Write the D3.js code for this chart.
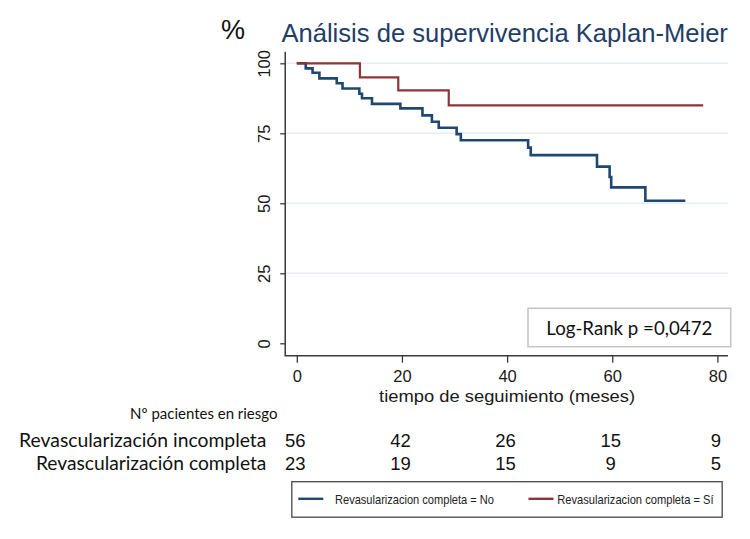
<!DOCTYPE html>
<html>
<head>
<meta charset="utf-8">
<script src="https://cdn.jsdelivr.net/npm/d3@7"></script>
<style>
  body { margin: 0; background: #fff; }
  svg { display: block; }
</style>
</head>
<body>
<div id="grafico"></div>
<script>
// ejes
var tiempoTicks = [0, 20, 40, 60, 80];
var supTicks = [0, 25, 50, 75, 100];

// curva Kaplan-Meier, revascularizacion completa = No
var tiempoNo = [0, 1.7, 3.0, 4.3, 7.6, 8.7, 11.9, 12.4, 14.3, 19.7, 23.9, 25.7, 27.0, 30.4, 31.2, 44.0, 44.5, 57.1, 59.5, 59.8, 66.3, 73.9];
var supNo    = [100, 98.2, 96.6, 94.6, 92.9, 91.0, 89.1, 87.5, 85.5, 83.9, 81.4, 79.1, 77.0, 74.7, 72.5, 69.9, 67.2, 63.1, 59.4, 55.7, 50.9, 50.9];

// curva Kaplan-Meier, revascularizacion completa = Si
var tiempoSi = [0, 12.0, 19.3, 28.9, 77.3];
var supSi    = [100, 95.0, 90.3, 85.0, 85.0];

var grupos = ["Revasularizacion completa = No", "Revasularizacion completa = Sí"];
var colores = ["#1f4772", "#8e3538"];

// pacientes en riesgo
var filasRiesgo = ["Revascularización incompleta", "Revascularización completa"];
var riesgoNo = [56, 42, 26, 15, 9];
var riesgoSi = [23, 19, 15, 9, 5];

var titulo = "Análisis de supervivencia Kaplan-Meier";
var tituloX = "tiempo de seguimiento (meses)";
var logRank = "Log-Rank p =0,0472";

!function() {
    var W = 750, H = 539;
    var fx = d3.scaleLinear().domain([0, 80]).range([296.8, 717.4]);
    var fy = d3.scaleLinear().domain([0, 100]).range([343.3, 63.3]);

    var svg = d3.select('#grafico')
                .append('svg')
                  .attr('width', W)
                  .attr('height', H);

    svg.append('rect').attr('width', W).attr('height', H).attr('fill', '#fff');

    // titulo
    svg.append('text')
        .attr('x', 221).attr('y', 38.5)
        .style('font-family', 'Liberation Sans, Arial, sans-serif')
        .style('font-size', '27px')
        .attr('fill', '#111')
        .text('%');
    svg.append('text')
        .attr('x', 281.4).attr('y', 41.7)
        .attr('textLength', 446.5)
        .attr('lengthAdjust', 'spacingAndGlyphs')
        .style('font-family', 'Liberation Sans, Arial, sans-serif')
        .style('font-size', '25.6px')
        .attr('fill', '#1f3d68')
        .text(titulo);

    // rejilla
    svg.append('g').selectAll('line')
        .data(supTicks.filter(function(d) { return d > 0; })).enter()
        .append('line')
          .attr('x1', fx(-2.2)).attr('x2', fx(82))
          .attr('y1', function(d) { return fy(d); })
          .attr('y2', function(d) { return fy(d); })
          .attr('stroke', '#e6edf1')
          .attr('stroke-width', 1.5);

    // eje y
    var ay = svg.append('g')
        .attr('transform', 'translate(' + fx(-2.2) + ',0)')
        .call(d3.axisLeft(fy).tickValues(supTicks).tickSize(5));
    ay.select('.domain').remove();
    ay.selectAll('line').attr('stroke', '#3a3a3a').attr('stroke-width', 1.3);
    ay.selectAll('text')
        .attr('x', 0).attr('y', -15.5).attr('dy', 0)
        .attr('transform', 'rotate(-90)')
        .style('text-anchor', 'middle')
        .style('font-family', 'Liberation Sans, Arial, sans-serif')
        .style('font-size', '16.5px')
        .attr('fill', '#1a1a1a');

    // eje x
    var ax = svg.append('g')
        .attr('transform', 'translate(0,' + 355.7 + ')')
        .call(d3.axisBottom(fx).tickValues(tiempoTicks).tickSize(7));
    ax.select('.domain').remove();
    ax.selectAll('line').attr('stroke', '#3a3a3a').attr('stroke-width', 1.3);
    ax.selectAll('text')
        .attr('y', 26.6).attr('dy', 0)
        .style('font-family', 'Liberation Sans, Arial, sans-serif')
        .style('font-size', '16.5px')
        .attr('fill', '#1a1a1a');

    svg.append('path')
        .attr('d', 'M' + fx(-2.2) + ',' + fy(104.1) + 'V355.7H' + fx(82))
        .attr('fill', 'none')
        .attr('stroke', '#3a3a3a')
        .attr('stroke-width', 1.5);

    svg.append('text')
        .attr('x', fx(40)).attr('y', 401.5)
        .attr('textLength', 256)
        .attr('lengthAdjust', 'spacingAndGlyphs')
        .style('text-anchor', 'middle')
        .style('font-family', 'Liberation Sans, Arial, sans-serif')
        .style('font-size', '17px')
        .attr('fill', '#1a1a1a')
        .text(tituloX);

    // curvas
    var linea = d3.line()
        .x(function(d) { return fx(d[0]); })
        .y(function(d) { return fy(d[1]); })
        .curve(d3.curveStepAfter);

    var curvas = [d3.zip(tiempoNo, supNo), d3.zip(tiempoSi, supSi)];
    svg.append('g').selectAll('path')
        .data(curvas).enter()
        .append('path')
          .attr('d', linea)
          .attr('fill', 'none')
          .attr('stroke', function(d, i) { return colores[i]; })
          .attr('stroke-width', function(d, i) { return i == 0 ? 2.6 : 2.2; })
          .attr('stroke-linejoin', 'miter');

    // caja log-rank
    svg.append('rect')
        .attr('x', 528).attr('y', 308.3)
        .attr('width', 202.7).attr('height', 38.4)
        .attr('fill', '#fff')
        .attr('stroke', '#c4c4c4')
        .attr('stroke-width', 1.5);
    svg.append('text')
        .attr('x', 629.3).attr('y', 335)
        .attr('textLength', 166)
        .attr('lengthAdjust', 'spacingAndGlyphs')
        .style('text-anchor', 'middle')
        .style('font-family', 'Lato, sans-serif')
        .style('font-size', '19.5px')
        .attr('fill', '#111')
        .text(logRank);

    // tabla de pacientes en riesgo
    svg.append('text')
        .attr('x', 277.4).attr('y', 419)
        .attr('textLength', 147.3)
        .attr('lengthAdjust', 'spacingAndGlyphs')
        .style('text-anchor', 'end')
        .style('font-family', 'Lato, sans-serif')
        .style('font-size', '14.5px')
        .attr('fill', '#111')
        .text('Nº pacientes en riesgo');

    var filas = [riesgoNo, riesgoSi];
    var baseFila = [446.7, 470.3];
    var largoFila = [247.3, 230.5];
    var gf = svg.append('g').selectAll('g')
        .data(filas).enter()
        .append('g')
          .attr('transform', function(d, i) { return 'translate(0,' + baseFila[i] + ')'; });

    gf.append('text')
        .attr('x', 266.4)
        .attr('textLength', function(d, i) { return largoFila[i]; })
        .attr('lengthAdjust', 'spacingAndGlyphs')
        .style('text-anchor', 'end')
        .style('font-family', 'Lato, sans-serif')
        .style('font-size', '19.5px')
        .attr('fill', '#111')
        .text(function(d, i) { return filasRiesgo[i]; });

    gf.selectAll('text.n')
        .data(function(d) { return d; }).enter()
        .append('text')
          .attr('class', 'n')
          .attr('x', function(d, i) { return fx(tiempoTicks[i]) - 1.5; })
          .style('text-anchor', 'middle')
          .style('font-family', 'Liberation Sans, Arial, sans-serif')
          .style('font-size', '18.5px')
          .attr('fill', '#111')
          .text(function(d) { return d; });

    // leyenda
    svg.append('rect')
        .attr('x', 291.8).attr('y', 481.7)
        .attr('width', 430.4).attr('height', 35.5)
        .attr('fill', '#fff')
        .attr('stroke', '#555')
        .attr('stroke-width', 1.4);

    var posLey = [[298.3, 335, 159], [528.5, 557.2, 156.4]];
    var gl = svg.append('g').selectAll('g')
        .data(grupos).enter()
        .append('g');
    gl.append('line')
        .attr('x1', function(d, i) { return posLey[i][0]; })
        .attr('x2', function(d, i) { return posLey[i][0] + 25; })
        .attr('y1', 498.8).attr('y2', 498.8)
        .attr('stroke', function(d, i) { return colores[i]; })
        .attr('stroke-width', 2.4);
    gl.append('text')
        .attr('x', function(d, i) { return posLey[i][1]; })
        .attr('y', 503.6)
        .attr('textLength', function(d, i) { return posLey[i][2]; })
        .attr('lengthAdjust', 'spacingAndGlyphs')
        .style('font-family', 'Liberation Sans Narrow, Arial Narrow, Liberation Sans, sans-serif')
        .style('font-size', '13px')
        .attr('fill', '#222')
        .text(function(d) { return d; });
}();
</script>
</body>
</html>
